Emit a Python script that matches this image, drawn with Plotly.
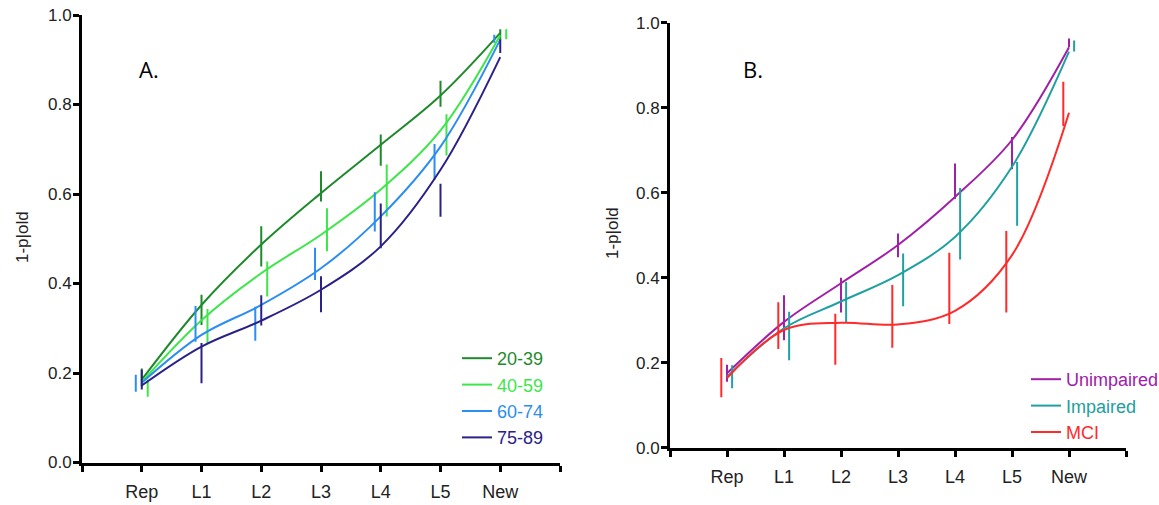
import plotly.graph_objects as go

# ---------------- data ----------------
categories = ["Rep", "L1", "L2", "L3", "L4", "L5", "New"]

# Panel A (age groups): fitted curve values at each category
A_fit_20_39 = [0.185, 0.352, 0.487, 0.602, 0.710, 0.820, 0.960]
A_fit_40_59 = [0.180, 0.318, 0.423, 0.509, 0.610, 0.742, 0.955]
A_fit_60_74 = [0.178, 0.285, 0.352, 0.434, 0.550, 0.706, 0.945]
A_fit_75_89 = [0.172, 0.259, 0.317, 0.386, 0.483, 0.654, 0.906]
# Panel A: observed means and error half-widths
A_mean_20_39 = [0.190, 0.341, 0.483, 0.617, 0.698, 0.824, 0.956]
A_err_20_39 = [0.020, 0.034, 0.045, 0.034, 0.035, 0.029, 0.012]
A_mean_40_59 = [0.166, 0.305, 0.410, 0.520, 0.608, 0.732, 0.957]
A_err_40_59 = [0.019, 0.038, 0.039, 0.048, 0.058, 0.046, 0.011]
A_mean_60_74 = [0.177, 0.310, 0.310, 0.444, 0.560, 0.672, 0.947]
A_err_60_74 = [0.019, 0.040, 0.038, 0.036, 0.044, 0.040, 0.009]
A_mean_75_89 = [0.185, 0.222, 0.340, 0.376, 0.529, 0.586, 0.930]
A_err_75_89 = [0.022, 0.045, 0.034, 0.040, 0.050, 0.037, 0.015]

# Panel B (cognitive status): fitted curve values
B_fit_unimpaired = [0.175, 0.296, 0.387, 0.477, 0.590, 0.724, 0.942]
B_fit_impaired = [0.167, 0.281, 0.344, 0.406, 0.496, 0.661, 0.932]
B_fit_mci = [0.164, 0.277, 0.294, 0.290, 0.322, 0.453, 0.788]
# Panel B: observed means and error half-widths
B_mean_unimpaired = [0.175, 0.306, 0.359, 0.476, 0.627, 0.693, 0.953]
B_err_unimpaired = [0.020, 0.053, 0.041, 0.028, 0.042, 0.038, 0.010]
B_mean_impaired = [0.167, 0.263, 0.343, 0.395, 0.527, 0.597, 0.945]
B_err_impaired = [0.027, 0.057, 0.047, 0.062, 0.084, 0.075, 0.013]
B_mean_mci = [0.165, 0.287, 0.255, 0.309, 0.375, 0.414, 0.809]
B_err_mci = [0.046, 0.055, 0.060, 0.074, 0.084, 0.096, 0.052]

series_A = [
    ("20-39", A_fit_20_39, A_mean_20_39, A_err_20_39, "#1f8a2c", 0.0),
    ("40-59", A_fit_40_59, A_mean_40_59, A_err_40_59, "#3ee64a", 0.1),
    ("60-74", A_fit_60_74, A_mean_60_74, A_err_60_74, "#2b8ef0", -0.1),
    ("75-89", A_fit_75_89, A_mean_75_89, A_err_75_89, "#2a2288", 0.0),
]
series_B = [
    ("Unimpaired", B_fit_unimpaired, B_mean_unimpaired, B_err_unimpaired, "#a020a8", 0.0),
    ("Impaired", B_fit_impaired, B_mean_impaired, B_err_impaired, "#21a0a0", 0.09),
    ("MCI", B_fit_mci, B_mean_mci, B_err_mci, "#ff2a2a", -0.1),
]

xpos = list(range(1, len(categories) + 1))

fig = go.Figure()


def add_series(series, xa, ya, legend):
    for name, fit, mean, err, color, off in series:
        fig.add_trace(go.Scatter(
            x=xpos, y=fit, mode="lines", line=dict(color=color, width=2, shape="spline"),
            name=f"<span style='color:{color}'>{name}</span>", legendgroup=legend + name,
            xaxis=xa, yaxis=ya, legend=legend, hoverinfo="skip"))
        fig.add_trace(go.Scatter(
            x=[p + off for p in xpos], y=mean, mode="markers",
            marker=dict(size=1, color=color),
            error_y=dict(type="data", array=err, visible=True, width=0, thickness=2, color=color),
            showlegend=False, legendgroup=legend + name, xaxis=xa, yaxis=ya, hoverinfo="skip"))


add_series(series_A, "x", "y", "legend")
add_series(series_B, "x2", "y2", "legend2")

FONT = "Arial"
tickfont = dict(family=FONT, size=18, color="#222")
ytickfont = dict(family=FONT, size=17, color="#222")

xcommon = dict(range=[0, 8], tickvals=list(range(0, 9)), ticktext=[""] + categories + [""],
               showline=True, linewidth=3, linecolor="black", ticks="outside", ticklen=6,
               tickwidth=2.5, tickcolor="black", showgrid=False, zeroline=False, tickfont=tickfont,
               ticklabelstandoff=5, automargin=False)
ycommon = dict(range=[0, 1], tickvals=[0, 0.2, 0.4, 0.6, 0.8, 1.0], tickformat=".1f",
               showline=True, linewidth=3, linecolor="black", ticks="outside", ticklen=6,
               tickwidth=2.5, tickcolor="black", showgrid=False, zeroline=False, tickfont=ytickfont,
               ticklabelstandoff=-2, automargin=False)

W, H = 1159, 505
fig.update_layout(
    width=W, height=H, margin=dict(l=0, r=0, t=0, b=0, autoexpand=False),
    paper_bgcolor="white", plot_bgcolor="white",
    xaxis=dict(domain=[82 / W, 560 / W], anchor="y", **xcommon),
    yaxis=dict(domain=[1 - 462.5 / H, 1 - 15 / H], anchor="x", **ycommon),
    xaxis2=dict(domain=[670 / W, 1126 / W], anchor="y2", **xcommon),
    yaxis2=dict(domain=[1 - 447.7 / H, 1 - 22.7 / H], anchor="x2", **ycommon),
    legend=dict(x=457 / W, y=1 - 340 / H, xanchor="left", yanchor="top",
                bgcolor="rgba(0,0,0,0)", font=dict(family=FONT, size=18),
                tracegroupgap=0),
    legend2=dict(x=1026 / W, y=1 - 361 / H, xanchor="left", yanchor="top",
                 bgcolor="rgba(0,0,0,0)", font=dict(family=FONT, size=18),
                 tracegroupgap=0),
    showlegend=True,
    annotations=[
        dict(text="A.", x=137 / W, y=1 - 69 / H, xref="paper", yref="paper", xanchor="left",
             yanchor="middle", showarrow=False, font=dict(family="Open Sans, sans-serif", size=22, color="black")),
        dict(text="B.", x=741 / W, y=1 - 69 / H, xref="paper", yref="paper", xanchor="left",
             yanchor="middle", showarrow=False, font=dict(family="Open Sans, sans-serif", size=22, color="black")),
        dict(text="1-p|old", x=22 / W, y=1 - 237 / H, xref="paper", yref="paper", textangle=-90,
             xanchor="center", yanchor="middle",
             showarrow=False, font=dict(family=FONT, size=17, color="#222")),
        dict(text="1-p|old", x=613 / W, y=1 - 233 / H, xref="paper", yref="paper", textangle=-90,
             xanchor="center", yanchor="middle",
             showarrow=False, font=dict(family=FONT, size=17, color="#222")),
    ],
)

fig.write_html("out.html")
